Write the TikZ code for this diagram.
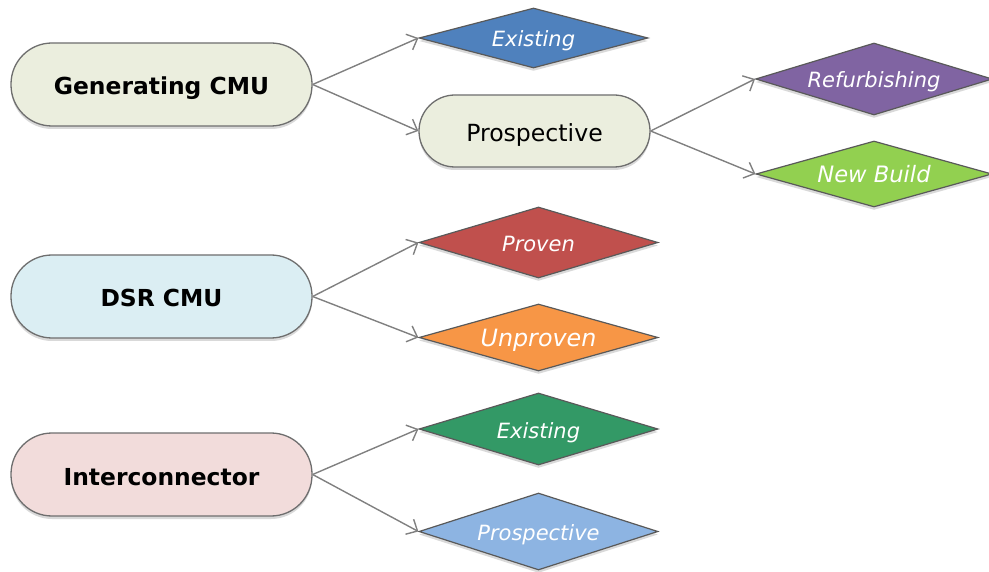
\documentclass[tikz,border=0pt]{standalone}
\usepackage{fontspec}
\setmainfont{DejaVu Sans}
\usetikzlibrary{shapes.geometric,arrows.meta,shadows}
\definecolor{genfill}{HTML}{EBEEDE}
\definecolor{dsrfill}{HTML}{DBEEF3}
\definecolor{intfill}{HTML}{F2DCDB}
\definecolor{outl}{HTML}{6E6E6E}
\definecolor{dout}{HTML}{595959}
\definecolor{cblue}{HTML}{4F81BD}
\definecolor{cpurple}{HTML}{8064A2}
\definecolor{cgreen}{HTML}{92D050}
\definecolor{cred}{HTML}{C0504D}
\definecolor{corange}{HTML}{F79646}
\definecolor{cdgreen}{HTML}{339966}
\definecolor{clblue}{HTML}{8DB4E2}
\definecolor{arrg}{HTML}{808080}
\tikzset{
  shad/.style={drop shadow={shadow xshift=0pt,shadow yshift=-3pt,opacity=0.15,fill=black}},
  pill/.style={shape=rectangle,rounded corners=41pt,draw=outl,line width=1.3pt,
    minimum width=301pt,minimum height=83pt,inner sep=0pt,shad,
    text height=26.6pt,text depth=5.6pt,
    font=\fontsize{23.4}{28}\selectfont\bfseries},
  pillsmall/.style={shape=rectangle,rounded corners=36pt,draw=outl,line width=1.3pt,
    minimum width=231pt,minimum height=72pt,inner sep=0pt,shad,
    text height=27.6pt,text depth=5.6pt,
    font=\fontsize{23.6}{28}\selectfont},
  dia/.style={shape=diamond,draw=dout,line width=1.2pt,inner sep=1pt,aspect=3.4,
    text=white,shad,text height=23pt,text depth=5pt,
    font=\fontsize{21}{25}\selectfont\itshape},
  arr/.style={draw=arrg,line width=1.4pt,-{Straight Barb[length=9pt,width=17pt,line width=1.4pt]}}
}
\begin{document}
\begin{tikzpicture}[x=1pt,y=-1pt]
\useasboundingbox (0,0) rectangle (989,572);
\node[pill,fill=genfill] (gen) at (161.5,84.5) {Generating CMU};
\node[pill,fill=dsrfill] (dsr) at (161.5,296.5) {DSR CMU};
\node[pill,fill=intfill] (int) at (161.5,474.5) {Interconnector};
\node[pillsmall,fill=genfill] (pro) at (534.5,131) {Prospective};
\node[dia,fill=cblue,minimum width=229pt,minimum height=60pt] (ex1) at (533.5,38) {Existing};
\node[dia,fill=cpurple,minimum width=236pt,minimum height=72pt] (ref) at (874,79) {Refurbishing};
\node[dia,fill=cgreen,minimum width=236pt,minimum height=66pt,font=\fontsize{22.6}{27}\selectfont\itshape] (nb) at (874,174) {New Build};
\node[dia,fill=cred,minimum width=239pt,minimum height=71pt] (prv) at (538.5,242.5) {Proven};
\node[dia,fill=corange,minimum width=239pt,minimum height=67pt,font=\fontsize{23.8}{28}\selectfont\itshape] (unp) at (538.5,337.5) {Unproven};
\node[dia,fill=cdgreen,minimum width=239pt,minimum height=72pt] (ex2) at (538.5,429) {Existing};
\node[dia,fill=clblue,minimum width=239pt,minimum height=77pt] (pr2) at (538.5,531.5) {Prospective};
\draw[arr] (gen.east) -- (ex1.west);
\draw[arr] (gen.east) -- (pro.west);
\draw[arr] (pro.east) -- (ref.west);
\draw[arr] (pro.east) -- (nb.west);
\draw[arr] (dsr.east) -- (prv.west);
\draw[arr] (dsr.east) -- (unp.west);
\draw[arr] (int.east) -- (ex2.west);
\draw[arr] (int.east) -- (pr2.west);
\end{tikzpicture}
\end{document}
